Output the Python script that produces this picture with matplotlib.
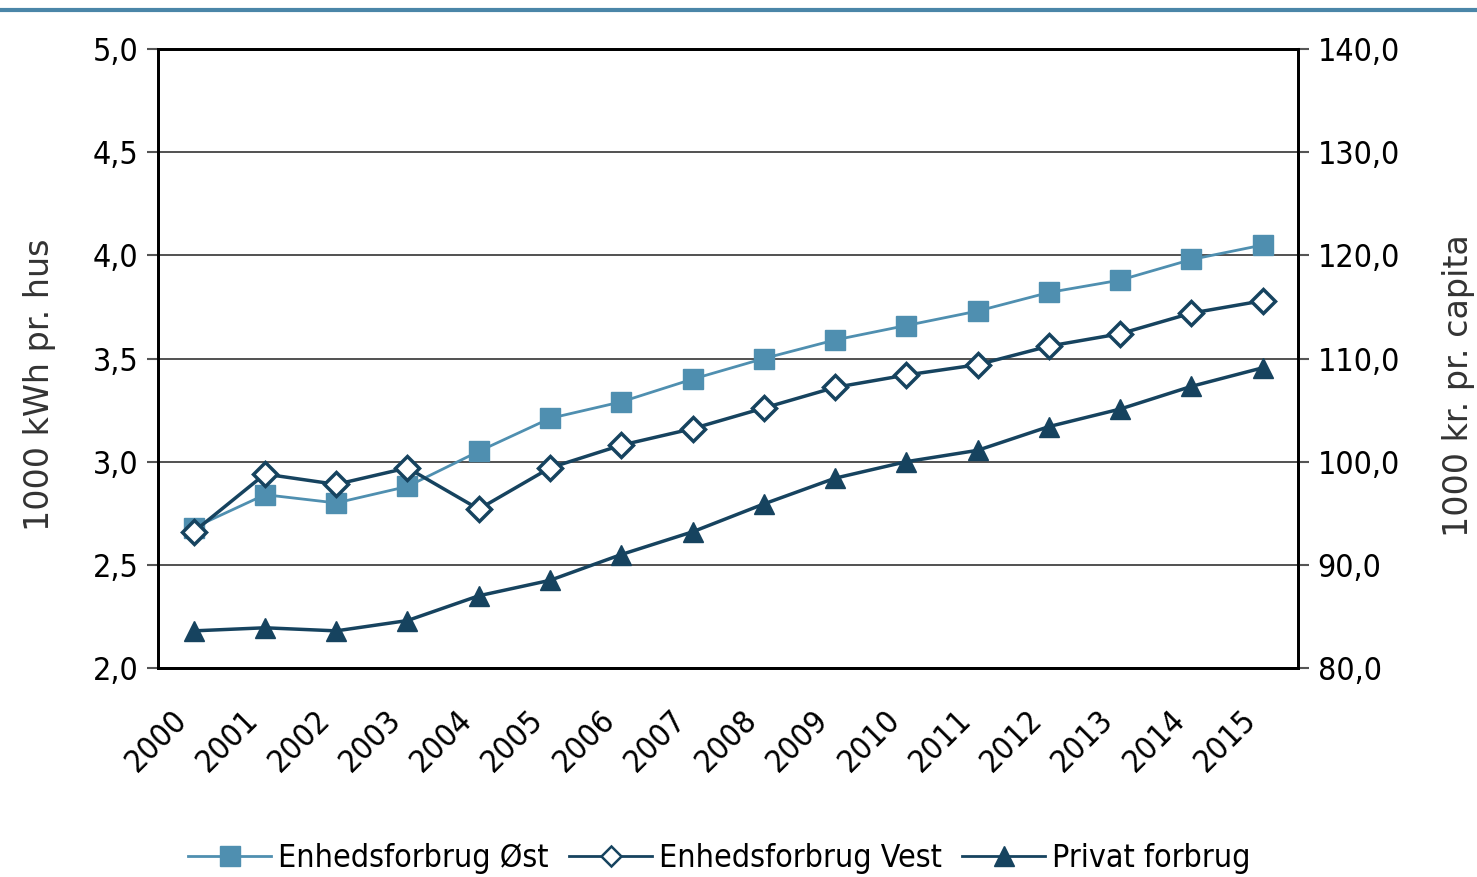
import matplotlib.pyplot as plt
import matplotlib.transforms as mtransforms
from matplotlib.lines import Line2D

# Data
years = ['2000', '2001', '2002', '2003', '2004', '2005', '2006', '2007',
         '2008', '2009', '2010', '2011', '2012', '2013', '2014', '2015']
oest = [2.68, 2.84, 2.80, 2.88, 3.05, 3.21, 3.29, 3.40,
        3.50, 3.59, 3.66, 3.73, 3.82, 3.88, 3.98, 4.05]
vest = [2.66, 2.94, 2.89, 2.97, 2.77, 2.97, 3.08, 3.16,
        3.26, 3.36, 3.42, 3.47, 3.56, 3.62, 3.72, 3.78]
privat = [83.6, 83.9, 83.6, 84.6, 87.0, 88.5, 91.0, 93.2,
          95.9, 98.4, 100.0, 101.1, 103.4, 105.1, 107.3, 109.1]

left_ticks = [2.0, 2.5, 3.0, 3.5, 4.0, 4.5, 5.0]
right_ticks = [80, 90, 100, 110, 120, 130, 140]

light = '#4f8fb0'
dark = '#16435f'

plt.rcParams['font.family'] = 'DejaVu Sans'
plt.rcParams['font.stretch'] = 'condensed'

fig = plt.figure(figsize=(14.77, 8.77), dpi=100)
ax = fig.add_axes([0.107, 0.2383, 0.772, 0.7058])
ax2 = ax.twinx()

x = list(range(len(years)))

ax.plot(x, oest, color=light, lw=2, marker='s', ms=14, mec=light, zorder=3)
ax.plot(x, vest, color=dark, lw=2.5, marker='D', ms=12, mfc='white',
        mec=dark, mew=2.5, zorder=4)
ax2.plot(x, privat, color=dark, lw=2.5, marker='^', ms=15, zorder=3)

fs = 23
ax.set_xlim(-0.5, len(years) - 0.5)
ax.set_ylim(2.0, 5.0)
ax2.set_ylim(80, 140)
ax.set_yticks(left_ticks)
ax.set_yticklabels([f'{v:.1f}'.replace('.', ',') for v in left_ticks], fontsize=fs)
ax2.set_yticks(right_ticks)
ax2.set_yticklabels([f'{v:.1f}'.replace('.', ',') for v in right_ticks], fontsize=fs)
ax.set_xticks(x)
ax.set_xticklabels(years, rotation=45, ha='right', rotation_mode='anchor', fontsize=fs)
ax.tick_params(axis='x', length=0, pad=26)
ax.tick_params(axis='y', length=8, width=1.5, color='#555555', pad=6)
ax2.tick_params(axis='y', length=8, width=1.5, color='#555555', pad=6)

# nudge the rotated year labels to the left, like the original
shift = mtransforms.ScaledTranslation(-0.22, 0, fig.dpi_scale_trans)
for lbl in ax.get_xticklabels():
    lbl.set_transform(lbl.get_transform() + shift)

ax.yaxis.grid(True, color='#333333', lw=1.2)
ax.set_axisbelow(True)
for a in (ax, ax2):
    for s in a.spines.values():
        s.set_linewidth(2)
        s.set_color('black')

fig.text(0.027, 0.561, '1000 kWh pr. hus', rotation=90, ha='center', va='center',
         fontsize=24, color='#333333', fontstretch='normal')
fig.text(0.9875, 0.56, '1000 kr. pr. capita', rotation=90, ha='center', va='center',
         fontsize=24, color='#333333', fontstretch='normal')

handles = [
    Line2D([], [], color=light, lw=2, marker='s', ms=14, mec=light),
    Line2D([], [], color=dark, lw=2, marker='D', ms=10, mfc='white', mec=dark, mew=1.8),
    Line2D([], [], color=dark, lw=2, marker='^', ms=14),
]
labels = ['Enhedsforbrug Øst', 'Enhedsforbrug Vest', 'Privat forbrug']
fig.legend(handles, labels, loc='lower center', bbox_to_anchor=(0.487, -0.029),
           ncol=3, frameon=False, fontsize=fs, handlelength=2.6,
           handletextpad=0.2, columnspacing=0.65)

# thin blue rule at the top of the figure
fig.add_artist(Line2D([0, 1], [0.989, 0.989], transform=fig.transFigure,
                      color='#4a86a8', lw=3))

fig.savefig('out.png', dpi=100)
